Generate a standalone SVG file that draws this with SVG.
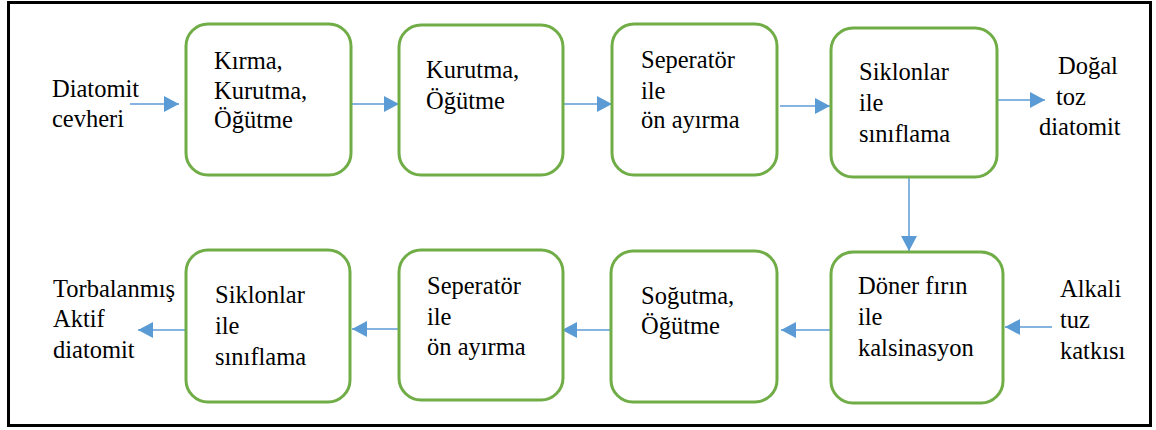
<svg xmlns="http://www.w3.org/2000/svg" width="1156" height="430" viewBox="0 0 1156 430">
<style>
.box{fill:#fff;stroke:#70AD47;stroke-width:3}
.t{font-family:'Liberation Serif','Times New Roman',serif;font-size:24.5px;fill:#000}
.c{stroke:#5B9BD5;stroke-width:1.5;fill:none;marker-end:url(#ah)}
</style>
<defs>
<marker id="ah" markerUnits="userSpaceOnUse" markerWidth="16" markerHeight="17" refX="15" refY="8" orient="auto" viewBox="0 0 16 17">
<path d="M0,0 L15,8 L0,16 Z" fill="#5B9BD5"/>
</marker>
</defs>
<rect x="0" y="0" width="1156" height="430" fill="#fff"/>
<rect x="8.5" y="2.5" width="1142" height="423" fill="none" stroke="#000" stroke-width="3"/>
<g id="connectors">
<line class="c" x1="130" y1="104" x2="179" y2="104"/>
<line class="c" x1="352" y1="104" x2="399" y2="104"/>
<line class="c" x1="564" y1="104" x2="612" y2="104"/>
<line class="c" x1="780" y1="106" x2="830" y2="106"/>
<line class="c" x1="998" y1="100" x2="1045" y2="100"/>
<line class="c" x1="909" y1="178" x2="909" y2="251"/>
<line class="c" x1="1052" y1="327" x2="1005" y2="327"/>
<line class="c" x1="830" y1="330" x2="781" y2="330"/>
<line class="c" x1="611" y1="330" x2="562" y2="330"/>
<line class="c" x1="398" y1="329" x2="352" y2="329"/>
<line class="c" x1="185" y1="330" x2="138" y2="330"/>
</g>
<g id="in1"><text class="t"><tspan x="52" y="97">Diatomit</tspan><tspan x="52" y="127">cevheri</tspan></text></g>
<g id="n1"><rect class="box" x="186" y="24" width="165" height="151" rx="22"/>
<text class="t"><tspan x="214" y="69">Kırma,</tspan><tspan x="214" y="99">Kurutma,</tspan><tspan x="214" y="128">Öğütme</tspan></text></g>
<g id="n2"><rect class="box" x="399" y="25" width="164" height="150" rx="22"/>
<text class="t"><tspan x="426" y="78">Kurutma,</tspan><tspan x="426" y="109">Öğütme</tspan></text></g>
<g id="n3"><rect class="box" x="612" y="24" width="165" height="151" rx="22"/>
<text class="t"><tspan x="641" y="68">Seperatör</tspan><tspan x="641" y="99">ile</tspan><tspan x="641" y="128">ön ayırma</tspan></text></g>
<g id="n4"><rect class="box" x="831" y="28" width="166" height="149" rx="22"/>
<text class="t"><tspan x="859" y="80">Siklonlar</tspan><tspan x="859" y="111">ile</tspan><tspan x="859" y="142">sınıflama</tspan></text></g>
<g id="out1"><text class="t"><tspan x="1058" y="74">Doğal</tspan><tspan x="1056" y="105">toz</tspan><tspan x="1039" y="135">diatomit</tspan></text></g>
<g id="n8"><rect class="box" x="831" y="252" width="172" height="151" rx="22"/>
<text class="t"><tspan x="858" y="294">Döner fırın</tspan><tspan x="858" y="325">ile</tspan><tspan x="858" y="356">kalsinasyon</tspan></text></g>
<g id="in2"><text class="t"><tspan x="1060" y="297">Alkali</tspan><tspan x="1060" y="328">tuz</tspan><tspan x="1060" y="359">katkısı</tspan></text></g>
<g id="n7"><rect class="box" x="611" y="251" width="166" height="151" rx="22"/>
<text class="t"><tspan x="641" y="304">Soğutma,</tspan><tspan x="641" y="334">Öğütme</tspan></text></g>
<g id="n6"><rect class="box" x="399" y="250" width="164" height="150" rx="22"/>
<text class="t"><tspan x="427" y="294">Seperatör</tspan><tspan x="427" y="325">ile</tspan><tspan x="427" y="355">ön ayırma</tspan></text></g>
<g id="n5"><rect class="box" x="186" y="250" width="164" height="152" rx="22"/>
<text class="t"><tspan x="215" y="303">Siklonlar</tspan><tspan x="215" y="334">ile</tspan><tspan x="215" y="365">sınıflama</tspan></text></g>
<g id="out2"><text class="t"><tspan x="53" y="297">Torbalanmış</tspan><tspan x="53" y="327">Aktif</tspan><tspan x="53" y="358">diatomit</tspan></text></g>
</svg>
